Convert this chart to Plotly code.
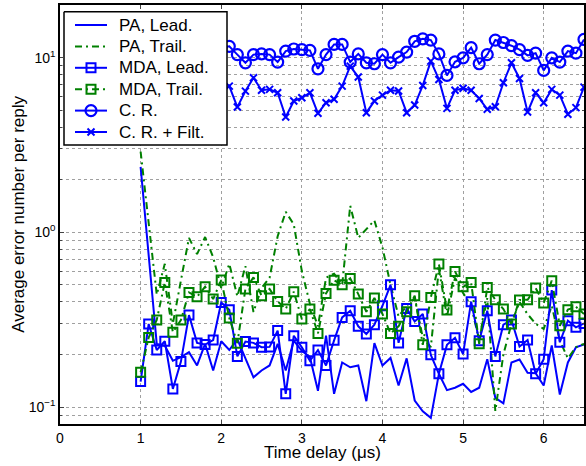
import plotly.graph_objects as go
import numpy as np

x_vals = [round(1.0 + 0.1 * i, 1) for i in range(56)]

pa_lead = [2.37, 0.74, 0.230, 0.225, 0.184, 0.193, 0.206, 0.173, 0.230, 0.162,
           0.238, 0.212, 0.245, 0.190, 0.148, 0.162, 0.173, 0.230, 0.162, 0.240,
           0.210, 0.193, 0.124, 0.256, 0.119, 0.180, 0.169, 0.173, 0.108, 0.232,
           0.173, 0.191, 0.133, 0.190, 0.109, 0.0946, 0.0868, 0.155, 0.125, 0.129,
           0.136, 0.122, 0.129, 0.188, 0.113, 0.105, 0.180, 0.187, 0.157, 0.156,
           0.133, 0.225, 0.118, 0.180, 0.220, 0.228]

pa_trail = [2.9, 1.15, 0.44, 0.66, 0.30, 0.53, 0.93, 0.75, 0.94, 0.72,
            0.48, 0.66, 0.43, 0.64, 0.35, 0.48, 0.55, 0.95, 1.31, 1.11,
            0.60, 0.39, 0.29, 0.55, 0.58, 0.50, 1.42, 0.93, 1.05, 1.17,
            0.82, 0.50, 0.33, 0.38, 0.42, 0.25, 0.22, 0.62, 0.33, 0.55,
            0.45, 0.38, 0.24, 0.42, 0.095, 0.20, 0.30, 0.40, 0.34, 0.30,
            0.28, 0.38, 0.24, 0.19, 0.22, 0.23]

mda_lead = [0.140, 0.299, 0.212, 0.238, 0.127, 0.182, 0.336, 0.233, 0.228, 0.242,
            0.397, 0.361, 0.195, 0.237, 0.233, 0.220, 0.221, 0.274, 0.119, 0.256,
            0.220, 0.184, 0.212, 0.173, 0.241, 0.326, 0.356, 0.290, 0.262, 0.296,
            0.380, 0.501, 0.233, 0.367, 0.309, 0.341, 0.199, 0.155, 0.227, 0.249,
            0.201, 0.401, 0.240, 0.356, 0.195, 0.296, 0.315, 0.222, 0.242, 0.155,
            0.188, 0.467, 0.235, 0.312, 0.286, 0.301]

mda_trail = [0.158, 0.250, 0.315, 0.517, 0.268, 0.315, 0.453, 0.428, 0.488, 0.415,
             0.533, 0.323, 0.232, 0.474, 0.552, 0.434, 0.474, 0.402, 0.364, 0.457,
             0.319, 0.364, 0.264, 0.447, 0.532, 0.501, 0.545, 0.443, 0.351, 0.421,
             0.341, 0.264, 0.290, 0.351, 0.434, 0.227, 0.424, 0.658, 0.359, 0.597,
             0.488, 0.517, 0.230, 0.484, 0.411, 0.364, 0.299, 0.410, 0.411, 0.480,
             0.394, 0.529, 0.292, 0.361, 0.375, 0.341]

cr = [11.2, 11.5, 10.8, 11.9, 11.3, 10.6, 11.8, 12.2, 11.0, 10.9,
      11.4, 11.6, 10.4, 9.34, 10.4, 10.5, 10.4, 9.43, 10.9, 11.2,
      11.1, 11.0, 8.63, 10.4, 11.9, 11.9, 9.43, 10.5, 9.34, 9.22,
      10.4, 9.34, 10.07, 10.75, 12.4, 12.8, 12.6, 10.5, 7.91, 9.46,
      9.97, 11.4, 9.22, 10.4, 12.6, 12.2, 11.7, 11.1, 10.3, 10.6,
      8.45, 9.97, 9.43, 10.9, 10.6, 12.7]

cr_filt = [6.2, 5.8, 6.5, 7.0, 6.1, 5.6, 6.8, 7.2, 6.0, 5.5,
           6.3, 6.87, 5.21, 6.43, 7.66, 6.50, 6.58, 6.29, 4.57, 5.64,
           5.89, 6.29, 4.80, 5.52, 5.77, 6.87, 8.94, 7.74, 4.84, 5.64,
           6.10, 6.50, 6.44, 4.84, 5.35, 6.93, 9.55, 7.50, 5.12, 6.50,
           6.67, 6.50, 5.84, 5.06, 5.23, 7.18, 9.34, 7.60, 4.88, 6.29,
           5.52, 6.58, 6.10, 4.74, 5.17, 6.78]

series_names = ["PA, Lead.", "PA, Trail.", "MDA, Lead.", "MDA, Trail.", "C. R.", "C. R. + Filt."]
x_ticks = [0, 1, 2, 3, 4, 5, 6]
y_tickvals = [0.1, 1, 10]
y_ticktext = ["10<sup>\u22121</sup>", "10<sup>0</sup>", "10<sup>1</sup>"]
y_minor = [v * m for v in [0.01, 0.1, 1, 10] for m in range(2, 10)]

BLUE = "#0000ff"
GREEN = "#008000"
DASHDOT = "7px,4px,2px,4px"
FONT = "Liberation Sans, Arial, Helvetica, sans-serif"

styles = [
    dict(mode="lines", line=dict(color=BLUE, width=2), marker=None),
    dict(mode="lines", line=dict(color=GREEN, width=2, dash=DASHDOT), marker=None),
    dict(mode="lines+markers", line=dict(color=BLUE, width=2),
         marker=dict(symbol="square-open", size=9, color=BLUE, line=dict(width=2, color=BLUE))),
    dict(mode="lines+markers", line=dict(color=GREEN, width=2, dash=DASHDOT),
         marker=dict(symbol="square-open", size=9, color=GREEN, line=dict(width=2, color=GREEN))),
    dict(mode="lines+markers", line=dict(color=BLUE, width=2),
         marker=dict(symbol="circle-open", size=11, color=BLUE, line=dict(width=2.2, color=BLUE))),
    dict(mode="lines+markers", line=dict(color=BLUE, width=2),
         marker=dict(symbol="x-thin-open", size=7, color=BLUE, line=dict(width=2, color=BLUE))),
]
series_values = [pa_lead, pa_trail, mda_lead, mda_trail, cr, cr_filt]

fig = go.Figure()
for name, vals, st in zip(series_names, series_values, styles):
    kw = dict(x=x_vals, y=vals, name=name, mode=st["mode"], line=st["line"], showlegend=False)
    if st["marker"] is not None:
        kw["marker"] = st["marker"]
    fig.add_trace(go.Scatter(**kw))

# Legend drawn on an overlay axis measured in pixels of the plot area
PLOT_L, PLOT_R, PLOT_T, PLOT_B = 60, 584, 5, 424
box_x = [64, 227, 227, 64, 64]
box_y = [11.7, 11.7, 145, 145, 11.7]
fig.add_trace(go.Scatter(x=box_x, y=box_y, xaxis="x2", yaxis="y2", mode="lines",
                         fill="toself", fillcolor="white",
                         line=dict(color="black", width=1.5),
                         hoverinfo="skip", showlegend=False))
legend_annotations = []
for i, (name, st) in enumerate(zip(series_names, styles)):
    yc = 25 + 21.4 * i
    fig.add_trace(go.Scatter(x=[75, 107], y=[yc, yc], xaxis="x2", yaxis="y2",
                             mode="lines", line=st["line"], hoverinfo="skip",
                             showlegend=False))
    if st["marker"] is not None:
        fig.add_trace(go.Scatter(x=[91], y=[yc], xaxis="x2", yaxis="y2",
                                 mode="markers", marker=st["marker"], hoverinfo="skip",
                                 showlegend=False))
    legend_annotations.append(dict(text=name, xref="x2", yref="y2", x=117, y=yc,
                                   xanchor="left", yanchor="middle", showarrow=False,
                                   font=dict(size=17, family=FONT, color="black")))

fig.update_layout(
    width=586, height=466, autosize=False,
    margin=dict(l=PLOT_L, r=586 - PLOT_R, t=PLOT_T, b=466 - PLOT_B, autoexpand=False),
    paper_bgcolor="white", plot_bgcolor="white",
    font=dict(family=FONT, size=14, color="black"),
    showlegend=False,
    xaxis2=dict(overlaying="x", range=[PLOT_L, PLOT_R], visible=False, fixedrange=True),
    yaxis2=dict(overlaying="y", range=[PLOT_B, PLOT_T], visible=False, fixedrange=True),
    annotations=[
        dict(text="Time delay (\u03bcs)", xref="paper", yref="paper",
             x=0.5, y=-0.067, xanchor="center", yanchor="middle",
             showarrow=False, font=dict(size=17, family=FONT)),
        dict(text="Average error number per reply", xref="paper", yref="paper",
             x=-0.0795, y=0.5, xanchor="center", yanchor="middle", textangle=-90,
             showarrow=False, font=dict(size=17, family=FONT)),
    ] + legend_annotations,
)
fig.update_xaxes(selector=dict(anchor="y"), range=[0, 6.5], tickvals=x_ticks, ticks="inside", ticklen=4,
                 showline=True, linecolor="black", linewidth=1.5, mirror="ticks",
                 showgrid=True, gridcolor="#a0a0a0", griddash="dot", gridwidth=1,
                 zeroline=False, automargin=False,
                 tickfont=dict(size=14))
fig.update_layout(yaxis=dict(type="log", range=[np.log10(0.08), np.log10(20)],
                 tickvals=y_tickvals, ticktext=y_ticktext,
                 ticks="inside", ticklen=4,
                 showline=True, linecolor="black", linewidth=1.5, mirror="ticks",
                 showgrid=True, gridcolor="#a0a0a0", griddash="dot", gridwidth=1,
                 minor=dict(showgrid=True, gridcolor="#a0a0a0", griddash="dot",
                            ticks="inside", ticklen=2, tickvals=y_minor),
                 zeroline=False, automargin=False,
                 tickfont=dict(size=14)))
fig.update_layout(xaxis=dict(range=[0, 6.5], tickvals=x_ticks, ticks="inside", ticklen=4,
                 showline=True, linecolor="black", linewidth=1.5, mirror="ticks",
                 showgrid=True, gridcolor="#a0a0a0", griddash="dot", gridwidth=1,
                 zeroline=False, automargin=False,
                 tickfont=dict(size=14)))

fig.write_html("out.html",
               config={"displayModeBar": False, "responsive": False},
               post_script="document.body.style.margin='0px';")
